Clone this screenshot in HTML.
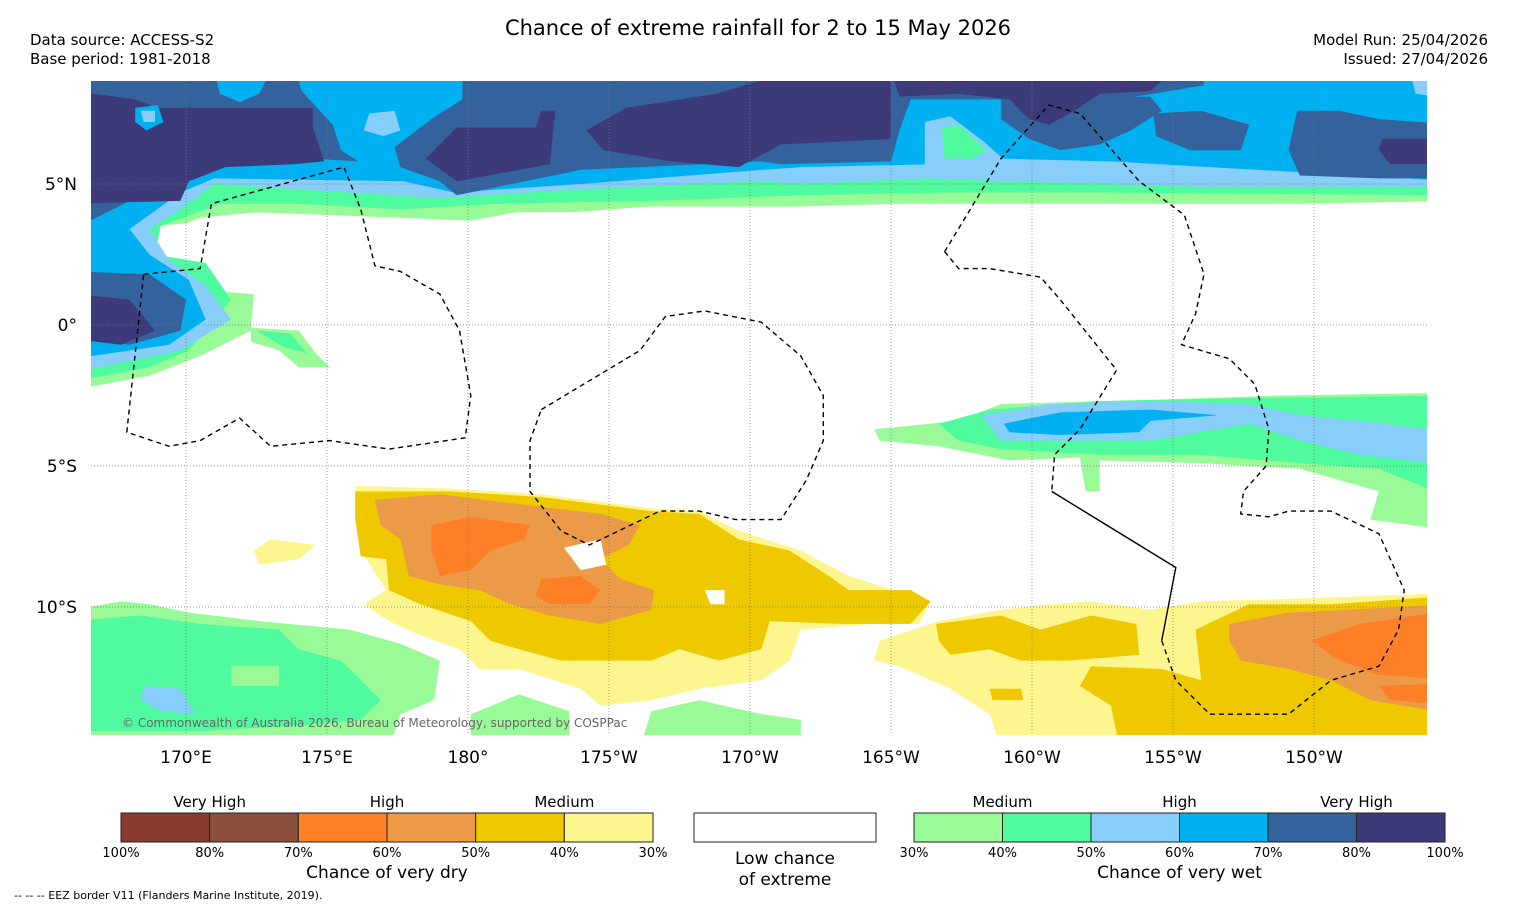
<!DOCTYPE html>
<html><head><meta charset="utf-8"><title>Chance of extreme rainfall</title>
<style>
html,body{margin:0;padding:0;background:#fff;}
svg{display:block;font-family:"DejaVu Sans","Liberation Sans",sans-serif;}
</style></head>
<body>
<svg id="chart" xmlns="http://www.w3.org/2000/svg" width="1517" height="908" viewBox="0 0 1517 908">
<rect width="1517" height="908" fill="#fff"/>
<text x="758" y="35" text-anchor="middle" font-size="21" fill="#000">Chance of extreme rainfall for 2 to 15 May 2026</text>
<text x="30" y="45" font-size="15">Data source: ACCESS-S2</text>
<text x="30" y="64" font-size="15">Base period: 1981-2018</text>
<text x="1488" y="45" font-size="15" text-anchor="end">Model Run: 25/04/2026</text>
<text x="1488" y="64" font-size="15" text-anchor="end">Issued: 27/04/2026</text>
<defs><clipPath id="mapclip"><rect x="91" y="81" width="1336" height="654"/></clipPath></defs>
<g id="map" clip-path="url(#mapclip)"></g>
<g id="axes"></g>
<text x="122" y="727" font-size="12" fill="#666">© Commonwealth of Australia 2026, Bureau of Meteorology, supported by COSPPac</text>
<g id="legend"></g>
<text x="14" y="899" font-size="11">--  --  -- EEZ border V11 (Flanders Marine Institute, 2019).</text>
</svg>
<script>
// ---- data ----
const wetColors = ["#98fb98","#50fa9e","#87cefa","#00b0f0","#34629d","#3c3a78"];
const dryColors = ["#fdf68e","#eec900","#eb9b47","#ff7f27","#8b4f3e","#8b3a30"];
const lonTicks = [170,175,180,185,190,195,200,205,210];
const lonLabels = ["170°E","175°E","180°","175°W","170°W","165°W","160°W","155°W","150°W"];
const latTicks = [5,0,-5,-10];
const latLabels = ["5°N","0°","5°S","10°S"];
const wetPct = ["30%","40%","50%","60%","70%","80%","100%"];
const dryPct = ["100%","80%","70%","60%","50%","40%","30%"];

// wet regions: [level, polygon(lon,lat)] drawn in order
const wetTop = [
 [0,[[166,9],[215,9],[215,4.4],[209.5,4.3],[206.0,4.3],[202.4,4.3],[198.9,4.3],[195.3,4.3],[191.5,4.2],[186.4,4.2],[183.7,4.0],[181.7,4.0],[180.1,3.7],[177.6,3.8],[175.1,3.9],[172.5,4.0],[170.5,3.8],[170.0,3.6],[168.7,3.5],[168.4,2.3],[170.5,2.1],[171.0,1.2],[172.4,1.1],[172.3,-0.2],[170.5,-1.1],[168.7,-1.8],[166,-2.3]]],
 [0,[[172.3,-0.1],[174.0,-0.2],[174.6,-1.0],[175.1,-1.5],[174.0,-1.5],[173.3,-0.9],[172.3,-0.6]]],
 [1,[[172.5,-0.2],[173.7,-0.3],[174.3,-1.0],[173.5,-0.8]]],
 [1,[[166,9],[215,9],[215,4.6],[202.4,4.7],[197.1,4.7],[191.8,4.6],[186.5,4.4],[181.1,4.3],[177.6,4.1],[174.0,4.3],[171.2,4.3],[169.1,3.5],[168.9,2.5],[170.7,2.2],[171.6,0.9],[170.1,-0.9],[168.7,-1.5],[166,-2.0]]],
 [2,[[166,9],[215,9],[215,4.9],[206.0,4.9],[202.4,5.0],[198.9,5.1],[196.4,5.2],[191.8,5.0],[190.4,5.1],[183.7,4.8],[179.0,4.5],[174.2,4.8],[171.0,5.0],[169.8,4.1],[168.7,3.4],[169.4,2.3],[170.7,1.4],[171.6,0.2],[169.8,-0.9],[166,-1.7]]],
 [3,[[166,9],[215,9],[215,5.1],[202.8,5.8],[198.9,5.9],[196.4,5.7],[191.8,5.6],[190.4,5.5],[184.0,5.0],[179.5,4.7],[177.7,5.1],[171.0,5.2],[169.8,4.7],[168.0,3.4],[168.7,2.5],[170.1,1.6],[170.7,0.2],[169.4,-0.7],[166,-1.2]]],
 [2,[[196.2,7.2],[197.1,7.4],[198.3,6.5],[199.3,5.6],[199.3,5.2],[196.2,5.2]]],
 [1,[[196.8,7.0],[197.4,7.1],[198.4,6.2],[197.9,5.9],[196.9,5.9]]],
 [4,[[166,9],[173.9,9],[174.1,8.3],[175.2,7.1],[175.5,6.2],[176.1,5.8],[174.5,5.9],[172.2,5.8],[169.8,5.4],[168.0,4.4],[166,3.4]]],
 [4,[[179.8,9],[206.0,9],[206.1,8.5],[203.1,8.0],[195.7,8.0],[195.3,6.9],[195.0,5.8],[191.1,5.7],[190.4,5.8],[184.0,5.5],[179.6,4.6],[179.0,5.1],[177.6,5.6],[177.4,6.3],[178.7,7.3],[179.8,8.0]]],
 [4,[[198.9,8.0],[204.2,8.1],[204.6,7.6],[203.5,6.9],[202.4,6.4],[201.0,6.2],[199.9,6.6],[198.9,7.3]]],
 [4,[[209.4,7.6],[210.9,7.6],[212.3,7.3],[215,7.1],[215,5.2],[212.3,5.2],[209.5,5.3],[209.1,6.2]]],
 [4,[[204.3,7.5],[206.0,7.6],[207.7,7.1],[207.4,6.2],[205.6,6.2],[204.4,6.7]]],
 [4,[[166,1.9],[168.7,1.8],[170.0,0.9],[169.8,-0.2],[168.0,-0.7],[166,-0.5]]],
 [3,[[171.0,9],[173.0,9],[172.6,8.2],[171.9,7.9],[171.2,8.2]]],
 [2,[[176.5,7.5],[177.4,7.6],[177.6,6.9],[177.0,6.7],[176.3,6.9]]],
 [2,[[213.4,9],[215,9],[215,8.0],[213.6,8.2]]],
 [5,[[166,8.3],[168.2,8.0],[169.0,7.7],[174.5,7.7],[174.5,7.0],[174.9,5.8],[173.8,5.7],[171.4,5.6],[170.1,5.1],[169.8,4.4],[166,4.3]]],
 [5,[[178.5,5.9],[179.6,7.0],[182.4,7.0],[182.6,7.6],[183.1,7.6],[182.9,5.7],[179.6,5.1]]],
 [5,[[184.2,6.9],[185.6,7.7],[188.8,8.2],[191.5,9],[195.0,9],[195.0,6.6],[191.1,6.4],[189.6,5.6],[187.2,5.8],[184.8,6.2]]],
 [5,[[195.0,9],[205.0,9],[204.2,8.3],[202.4,8.2],[201.5,7.6],[200.6,7.1],[199.9,7.3],[199.2,8.0],[197.4,8.2],[195.3,8.1]]],
 [5,[[212.4,6.6],[215,6.6],[215,5.7],[212.7,5.7],[212.3,6.2]]],
 [5,[[166,1.1],[168.0,0.9],[168.9,-0.2],[167.7,-0.7],[166,-0.5]]],
 [3,[[168.2,7.7],[169.0,7.8],[169.2,7.2],[168.6,6.9],[168.2,7.2]]],
 [2,[[168.4,7.6],[168.9,7.6],[168.9,7.2],[168.5,7.2]]]
];
const wetSouth = [
 [0,[[194.4,-3.7],[197.4,-3.4],[198.9,-2.8],[206.0,-2.6],[208.8,-2.5],[215,-2.4],[215,-7.3],[212.0,-6.9],[212.3,-5.9],[209.5,-5.1],[206.0,-4.9],[202.4,-4.8],[202.4,-5.9],[201.9,-5.9],[201.7,-4.7],[199.2,-4.8],[196.7,-4.3],[194.6,-4.1]]],
 [1,[[196.7,-3.5],[198.5,-3.0],[202.4,-2.7],[207.4,-2.6],[215,-2.5],[215,-6.2],[212.3,-5.1],[209.5,-4.9],[206.0,-4.6],[202.4,-4.6],[198.9,-4.4],[197.4,-4.1]]],
 [2,[[198.2,-3.2],[200.6,-2.8],[204.2,-2.7],[207.7,-2.8],[209.5,-3.2],[211.6,-3.4],[215,-3.8],[215,-5.0],[211.6,-4.6],[209.5,-4.1],[207.7,-3.5],[204.2,-4.1],[198.9,-4.1]]],
 [3,[[199.0,-3.5],[201.0,-3.1],[204.2,-3.0],[206.6,-3.2],[204.2,-3.4],[203.8,-3.8],[201.0,-3.9],[199.2,-3.8]]],
 [0,[[166,-10.1],[167.7,-9.8],[168.7,-9.9],[170.1,-10.2],[172.6,-10.5],[175.8,-10.8],[177.6,-11.3],[179.0,-11.9],[178.8,-13.3],[177.6,-13.8],[177.2,-15],[166,-15]]],
 [0,[[180.1,-15],[180.1,-13.8],[181.8,-13.1],[183.6,-13.7],[183.6,-15]]],
 [0,[[186.1,-15],[186.5,-13.7],[188.2,-13.3],[190.4,-13.8],[191.8,-14.0],[191.8,-15]]],
 [1,[[166,-10.5],[168.4,-10.3],[170.5,-10.6],[173.3,-10.8],[174.0,-11.5],[175.5,-11.9],[176.2,-12.6],[176.9,-13.3],[176.2,-14.0],[174.0,-14.2],[170.5,-14.4],[166,-14.4]]],
 [2,[[168.5,-12.8],[169.8,-12.9],[170.3,-13.8],[169.1,-13.7],[168.4,-13.3]]],
 [0,[[171.6,-12.1],[173.3,-12.1],[173.3,-12.8],[171.6,-12.8]]]
];
const dryRegions = [
 [0,[[176.0,-5.7],[179.4,-5.8],[182.6,-6.0],[186.5,-6.5],[188.2,-6.6],[189.6,-7.3],[191.8,-8.0],[193.5,-8.9],[196.4,-9.8],[196.0,-10.6],[194.3,-10.6],[191.8,-10.8],[191.4,-11.9],[190.4,-12.6],[188.2,-12.9],[186.5,-13.3],[184.7,-13.5],[184.0,-12.9],[181.8,-12.2],[180.4,-12.2],[179.7,-11.5],[178.3,-11.0],[177.2,-10.5],[176.3,-9.9],[177.1,-9.4],[176.2,-8.0],[176.0,-6.9]]],
 [0,[[172.4,-8.0],[173.0,-7.6],[174.6,-7.8],[174.0,-8.3],[172.6,-8.5]]],
 [1,[[176.0,-5.9],[179.4,-5.9],[182.6,-6.1],[186.5,-6.6],[188.2,-6.7],[189.6,-7.6],[191.4,-8.0],[192.8,-8.9],[193.5,-9.4],[195.7,-9.4],[196.4,-9.8],[195.7,-10.6],[193.2,-10.6],[190.7,-10.5],[190.4,-11.5],[188.9,-11.9],[187.5,-11.5],[186.5,-11.9],[185.4,-11.9],[183.3,-11.9],[181.8,-11.5],[180.8,-11.2],[180.1,-10.5],[178.3,-9.9],[177.2,-9.4],[177.1,-8.3],[176.2,-8.2],[176.0,-6.9]]],
 [2,[[176.7,-6.2],[179.0,-6.0],[182.2,-6.4],[184.7,-6.7],[186.1,-7.1],[185.7,-7.8],[184.7,-8.3],[185.4,-9.0],[186.6,-9.4],[186.5,-10.1],[184.7,-10.6],[182.9,-10.3],[181.5,-9.9],[180.4,-9.4],[179.0,-9.2],[177.9,-8.9],[177.6,-7.6],[176.9,-7.1]]],
 [3,[[178.7,-7.1],[180.1,-6.8],[182.2,-7.1],[182.0,-7.6],[180.8,-8.0],[180.1,-8.7],[179.0,-8.9],[178.7,-8.0]]],
 [3,[[182.6,-9.0],[184.0,-8.9],[184.7,-9.4],[184.3,-9.9],[182.9,-9.9],[182.4,-9.6]]],
 [-1,[[183.4,-7.9],[184.7,-7.6],[184.9,-8.5],[184.0,-8.7]]],
 [-1,[[188.4,-9.4],[189.1,-9.4],[189.1,-9.9],[188.6,-9.9]]],
 [0,[[194.6,-11.2],[196.7,-10.5],[198.9,-10.1],[200.6,-9.9],[202.1,-9.8],[204.2,-10.1],[206.0,-9.8],[209.5,-9.7],[215,-9.5],[215,-15],[198.9,-15],[198.5,-13.8],[197.1,-12.9],[195.3,-12.1],[194.4,-11.9]]],
 [1,[[196.6,-10.6],[198.9,-10.3],[200.3,-10.8],[202.1,-10.3],[203.7,-10.6],[203.8,-11.7],[201.3,-11.9],[199.6,-11.9],[198.5,-11.5],[197.1,-11.7],[196.7,-11.2]]],
 [1,[[205.8,-10.8],[207.7,-9.9],[210.6,-9.9],[215,-9.6],[215,-15],[203.1,-15],[202.8,-13.5],[201.7,-12.8],[202.1,-12.1],[204.6,-12.2],[206.0,-12.6]]],
 [1,[[198.5,-12.9],[199.6,-12.9],[199.7,-13.3],[198.6,-13.3]]],
 [2,[[207.0,-10.6],[209.1,-10.2],[215,-9.9],[215,-13.8],[212.0,-13.3],[210.6,-12.6],[209.1,-12.2],[207.4,-11.9],[207.0,-11.2]]],
 [3,[[209.9,-11.2],[211.6,-10.6],[215,-10.1],[215,-12.6],[212.3,-12.4],[210.9,-11.9]]],
 [3,[[212.3,-12.8],[215,-12.7],[215,-13.5],[212.7,-13.3]]]
];
const eezGilbert = [[168.5,1.8],[170.5,2.0],[170.9,4.3],[175.6,5.6],[176.2,4.1],[176.7,2.1],[177.6,1.9],[179.0,1.1],[179.7,-0.2],[180.1,-2.5],[179.9,-4.0],[177.2,-4.4],[175.1,-4.1],[173.0,-4.3],[171.9,-3.3],[170.5,-4.1],[169.4,-4.3],[167.9,-3.8],[168.5,1.8]];
const eezPhoenix = [[182.6,-3.0],[186.1,-0.9],[187.0,0.3],[188.4,0.5],[190.4,0.1],[191.8,-1.1],[192.6,-2.5],[192.6,-4.1],[192.0,-5.5],[191.1,-6.9],[189.5,-6.9],[188.2,-6.6],[186.8,-6.6],[184.3,-7.8],[183.3,-7.3],[182.2,-5.9],[182.2,-4.1],[182.6,-3.0]];
const eezLineA = [[196.9,2.6],[198.9,5.9],[200.6,7.8],[201.7,7.5],[203.8,5.1],[205.4,3.9],[206.1,1.8],[205.8,0.4],[205.3,-0.7],[207.0,-1.2],[207.9,-2.1],[208.4,-3.7],[208.3,-5.0],[207.5,-5.9],[207.4,-6.7],[208.4,-6.8],[209.1,-6.6],[210.6,-6.6],[212.3,-7.4],[213.2,-9.4],[213.0,-10.8],[212.3,-12.1],[210.6,-12.6],[209.1,-13.8],[206.3,-13.8],[205.1,-12.6],[204.6,-11.2]];
const eezLineB = [[196.9,2.6],[197.4,2.0],[198.5,2.0],[200.3,1.7],[201.0,0.9],[203.0,-1.6],[201.7,-3.7],[200.8,-4.6],[200.7,-5.9]];
const eezSolid = [[200.7,-5.9],[205.1,-8.6],[204.6,-11.2]];

// ---- axes ----
const X = lon => 186 + (lon - 170) * 28.2;
const Y = lat => 325 - lat * 28.2;
const NS = "http://www.w3.org/2000/svg";
const mk = (tag, attrs, parent) => { const e = document.createElementNS(NS, tag); for (const k in attrs) e.setAttribute(k, attrs[k]); parent.appendChild(e); return e; };
const pts = arr => arr.map(p => X(p[0]).toFixed(1) + "," + Y(p[1]).toFixed(1)).join(" ");
const map = document.getElementById("map");

wetTop.concat(wetSouth).forEach((r, i) => {
  const p = mk("polygon", {points: pts(r[1]), fill: wetColors[r[0]]}, map);
  
  
});
dryRegions.forEach((r, i) => {
  const p = mk("polygon", {points: pts(r[1]), fill: r[0] < 0 ? "#fff" : dryColors[r[0]]}, map);
  
  
});
lonTicks.forEach((lon, i) => {
  const l = mk("line", {x1: X(lon), x2: X(lon), y1: 81, y2: 735, stroke: "#777", "stroke-width": 0.7, "stroke-dasharray": "1,2"}, map);
  
  
});
latTicks.forEach(lat => {
  const l = mk("line", {x1: 91, x2: 1427, y1: Y(lat), y2: Y(lat), stroke: "#777", "stroke-width": 0.7, "stroke-dasharray": "1,2"}, map);
  
  
});
[eezGilbert, eezPhoenix, eezLineA, eezLineB].forEach(a => {
  const l = mk("polyline", {points: pts(a), fill: "none", stroke: "#000", "stroke-width": 1.4, "stroke-dasharray": "5,4"}, map);
  
  
});
const s = mk("polyline", {points: pts(eezSolid), fill: "none", stroke: "#000", "stroke-width": 1.4}, map);



const axes = document.getElementById("axes");
lonTicks.forEach((lon, i) => {
  const t = mk("text", {x: X(lon), y: 763, "text-anchor": "middle", "font-size": 17}, axes);
  t.textContent = lonLabels[i];
  
  
});
latTicks.forEach((lat, i) => {
  const t = mk("text", {x: 77, y: Y(lat) + 6, "text-anchor": "end", "font-size": 17}, axes);
  t.textContent = latLabels[i];
  
  
});

const lg = document.getElementById("legend");
function bar(x0, x1, colors, labels, cats, title, prefix) {
  const w = (x1 - x0) / colors.length;
  colors.forEach((c, i) => {
    const r = mk("rect", {x: x0 + i * w, y: 813, width: w, height: 29, fill: c, stroke: "#222", "stroke-width": 1}, lg);
    
    
  });
  labels.forEach((l, i) => {
    const t = mk("text", {x: x0 + i * w, y: 857, "text-anchor": "middle", "font-size": 13}, lg);
    t.textContent = l;
    
    
  });
  cats.forEach((c, i) => {
    const t = mk("text", {x: x0 + (c[1]) * w, y: 807, "text-anchor": "middle", "font-size": 15}, lg);
    t.textContent = c[0];
    
    
  });
  const t = mk("text", {x: (x0 + x1) / 2, y: 878, "text-anchor": "middle", "font-size": 17}, lg);
  t.textContent = title;
  
  
}
bar(121, 653, dryColors.slice().reverse(), dryPct, [["Very High",1],["High",3],["Medium",5]], "Chance of very dry", "dry-legend");
bar(914, 1445, wetColors, wetPct, [["Medium",1],["High",3],["Very High",5]], "Chance of very wet", "wet-legend");
const lb = mk("rect", {x: 694, y: 813, width: 182, height: 29, fill: "#fff", stroke: "#222", "stroke-width": 1}, lg);


["Low chance", "of extreme"].forEach((s, i) => {
  const t = mk("text", {x: 785, y: 864 + i * 21, "text-anchor": "middle", "font-size": 17}, lg);
  t.textContent = s;
  
  
});
</script>
</body></html>
